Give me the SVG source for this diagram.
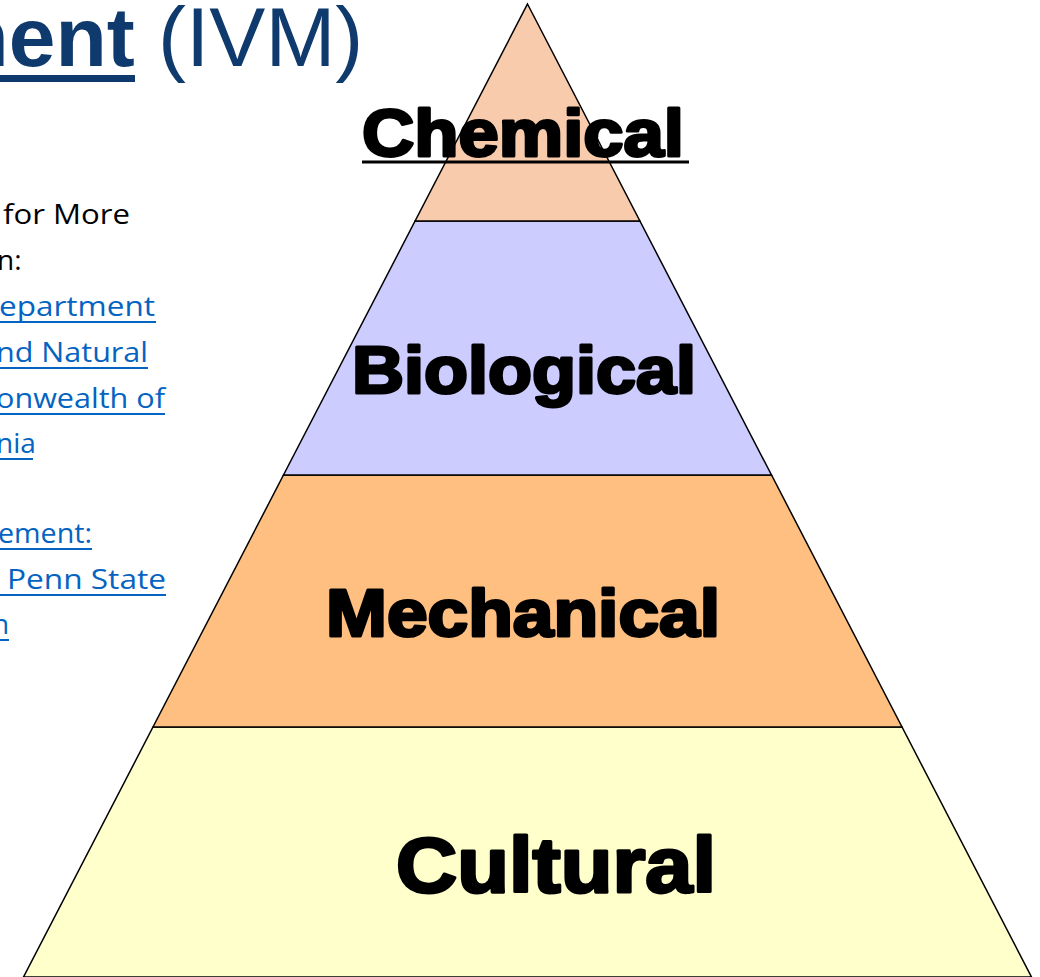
<svg xmlns="http://www.w3.org/2000/svg" width="1040" height="977" viewBox="0 0 1040 977">
  <style>
    .layer { stroke: #000; stroke-width: 1.5; stroke-linejoin: miter; }
    .lbl { font-family: "Liberation Sans", Arial, sans-serif; font-weight: bold; fill: #000; stroke: #000; stroke-width: 3; stroke-linejoin: round; }
    .title { font-family: "Liberation Sans", Arial, sans-serif; font-size: 84px; fill: #0F3A6E; }
    .body { font-family: "Open Sans", "Noto Sans", sans-serif; font-size: 28px; fill: #000; }
    .link { font-family: "Open Sans", "Noto Sans", sans-serif; font-size: 28px; fill: #0563C1; }
    .ul { stroke: #0563C1; stroke-width: 2; }
  </style>
  <rect width="1040" height="977" fill="#FFFFFF"/>

  <g id="title">
    <text class="title" x="-66" y="66"><tspan font-weight="bold">ment</tspan> (IVM)</text>
    <rect x="-70" y="75" width="205" height="7" fill="#0F3A6E"/>
  </g>

  <g id="sidetext">
    <text class="body" x="3" y="224" textLength="127" lengthAdjust="spacingAndGlyphs">for More</text>
    <text class="body" x="-3" y="270">n:</text>
    <text class="link" x="-1" y="316" textLength="156" lengthAdjust="spacingAndGlyphs">epartment</text>
    <line class="ul" x1="0" y1="322" x2="156" y2="322"/>
    <text class="link" x="-4" y="362" textLength="152" lengthAdjust="spacingAndGlyphs">nd Natural</text>
    <line class="ul" x1="0" y1="368" x2="148" y2="368"/>
    <text class="link" x="-4" y="408" textLength="169" lengthAdjust="spacingAndGlyphs">onwealth of</text>
    <line class="ul" x1="0" y1="414" x2="165" y2="414"/>
    <text class="link" x="-4" y="453">nia</text>
    <line class="ul" x1="0" y1="459" x2="33" y2="459"/>
    <text class="link" x="-2" y="543" textLength="94" lengthAdjust="spacingAndGlyphs">ement:</text>
    <line class="ul" x1="0" y1="549" x2="92" y2="549"/>
    <text class="link" x="7" y="589" textLength="159" lengthAdjust="spacingAndGlyphs">Penn State</text>
    <line class="ul" x1="0" y1="595" x2="166" y2="595"/>
    <text class="link" x="-8" y="634">n</text>
    <line class="ul" x1="0" y1="640" x2="9" y2="640"/>
  </g>

  <g id="layer-cultural">
    <polygon class="layer" points="153,727 902,727 1031.5,977 23.5,977" fill="#FFFFCC"/>
    <text class="lbl" x="396" y="892" font-size="78" textLength="320" lengthAdjust="spacingAndGlyphs">Cultural</text>
  </g>
  <g id="layer-mechanical">
    <polygon class="layer" points="283.5,475 771.5,475 902,727 153,727" fill="#FFBF80"/>
    <text class="lbl" x="326" y="636" font-size="66" textLength="394" lengthAdjust="spacingAndGlyphs">Mechanical</text>
  </g>
  <g id="layer-biological">
    <polygon class="layer" points="415.1,221 639.9,221 771.5,475 283.5,475" fill="#CCCCFF"/>
    <text class="lbl" x="352" y="393" font-size="66" textLength="344" lengthAdjust="spacingAndGlyphs">Biological</text>
  </g>
  <g id="layer-chemical">
    <polygon class="layer" points="527.5,4 639.9,221 415.1,221" fill="#F8CBAD"/>
    <text class="lbl" x="362" y="156" font-size="67" textLength="322" lengthAdjust="spacingAndGlyphs">Chemical</text>
    <line x1="362" y1="162" x2="689" y2="162" stroke="#000" stroke-width="3"/>
  </g>
</svg>
